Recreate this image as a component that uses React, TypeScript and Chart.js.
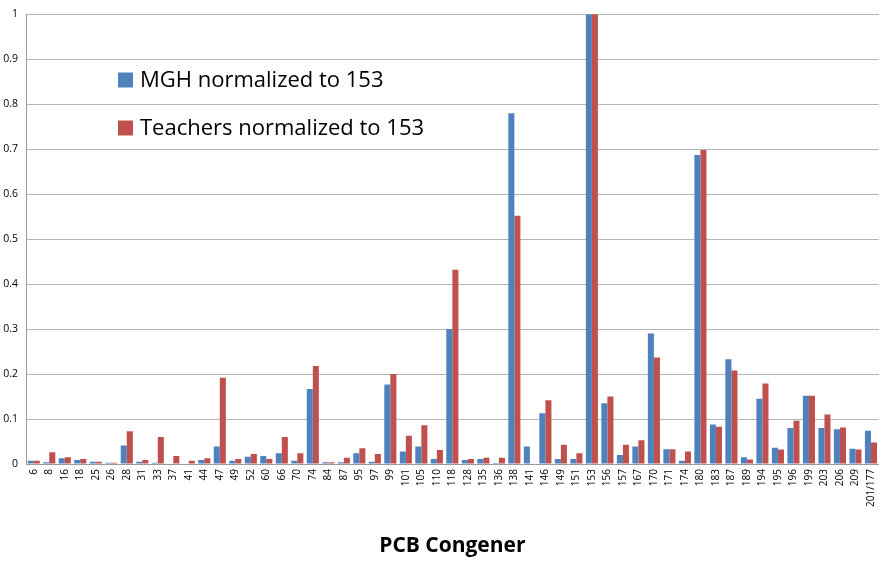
import React, { useEffect, useRef } from "react";
import { Chart, registerables } from "chart.js";

Chart.register(...registerables);

const categories = ["6","8","16","18","25","26","28","31","33","37","41","44","47","49","52","60","66","70","74","84","87","95","97","99","101","105","110","118","128","135","136","138","141","146","149","151","153","156","157","167","170","171","174","180","183","187","189","194","195","196","199","203","206","209","201/177"];

const mghValues = [0.007,0.004,0.013,0.009,0.005,0.003,0.041,0.005,0.003,0,0,0.009,0.039,0.007,0.016,0.018,0.024,0.007,0.167,0.004,0.004,0.024,0.005,0.177,0.028,0.039,0.011,0.3,0.009,0.011,0.002,0.78,0.039,0.113,0.011,0.011,1,0.135,0.02,0.039,0.29,0.033,0.007,0.687,0.088,0.233,0.015,0.145,0.036,0.08,0.152,0.08,0.077,0.034,0.074];

const teacherValues = [0.007,0.026,0.015,0.011,0.005,0.003,0.073,0.009,0.06,0.018,0.007,0.013,0.192,0.011,0.022,0.011,0.06,0.024,0.218,0.004,0.014,0.035,0.022,0.2,0.063,0.086,0.031,0.432,0.011,0.014,0.014,0.552,0,0.142,0.043,0.024,1,0.15,0.043,0.053,0.237,0.033,0.028,0.698,0.083,0.208,0.01,0.179,0.032,0.096,0.152,0.11,0.081,0.032,0.048];

const seriesLabels = ["MGH normalized to 153", "Teachers normalized to 153"];
const seriesColors = ["#4F81BD", "#C0504D"];

const FONT = "'Open Sans', 'Noto Sans', sans-serif";

const legendPlugin = {
  id: "insideLegend",
  afterDatasetsDraw(chart: any) {
    const ctx = chart.ctx;
    ctx.save();
    const items = chart.data.datasets;
    const ys = [80, 128];
    items.forEach((ds: any, i: number) => {
      const y = ys[i];
      ctx.fillStyle = ds.backgroundColor;
      ctx.fillRect(118, y - 7.5, 15, 15);
      ctx.fillStyle = "#000";
      ctx.font = `22px ${FONT}`;
      ctx.textBaseline = "middle";
      ctx.textAlign = "left";
      ctx.fillText(ds.label, 140, y + 1);
    });
    ctx.restore();
  },
};

export default function App() {
  const ref = useRef<HTMLCanvasElement>(null);
  useEffect(() => {
    document.body.style.margin = "0";
    if (!ref.current) return;
    const chart = new Chart(ref.current, {
      type: "bar",
      data: {
        labels: categories,
        datasets: [
          { label: seriesLabels[0], data: mghValues, backgroundColor: seriesColors[0], categoryPercentage: 0.78, barPercentage: 1 },
          { label: seriesLabels[1], data: teacherValues, backgroundColor: seriesColors[1], categoryPercentage: 0.78, barPercentage: 1 },
        ],
      },
      options: {
        animation: false,
        responsive: false,
        maintainAspectRatio: false,
        layout: { padding: { top: 13, right: 4, left: 0, bottom: 0 } },
        plugins: { legend: { display: false }, tooltip: { enabled: false } },
        scales: {
          x: {
            grid: { display: false, drawTicks: false },
            border: { display: true, color: "#9a9a9a" },
            ticks: { color: "#000", font: { family: FONT, size: 10 }, minRotation: 90, maxRotation: 90, autoSkip: false, padding: 5 },
            title: { display: true, text: "PCB Congener", color: "#000", font: { family: FONT, size: 21, weight: "bold" }, padding: { top: 0, bottom: 3 } },
            afterFit: (s: any) => { s.height = 98; },
          },
          y: {
            min: 0,
            max: 1,
            ticks: {
              stepSize: 0.1,
              color: "#000",
              font: { family: FONT, size: 10.5 },
              padding: 8,
              callback: (v: any) => String(Math.round(Number(v) * 10) / 10),
            },
            grid: { color: "#b5b5b5", drawTicks: false },
            border: { display: true, color: "#9a9a9a" },
            afterFit: (s: any) => { s.width = 26; },
          },
        },
      },
      plugins: [legendPlugin],
    });
    return () => chart.destroy();
  }, []);
  return (
    <div style={{ position: "fixed", left: 0, top: 0, width: 888, height: 562, background: "#fff" }}>
      <canvas ref={ref} width={888} height={562} style={{ width: 888, height: 562 }} />
    </div>
  );
}
